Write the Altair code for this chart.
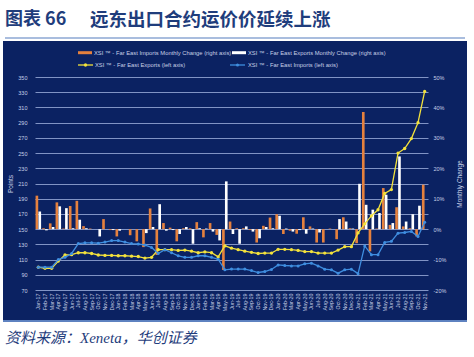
import altair as alt
import pandas as pd

months = [m + "-" + y for y in ["17", "18", "19", "20", "21"]
          for m in ["Jan", "Feb", "Mar", "Apr", "May", "Jun", "Jul", "Aug", "Sep", "Oct", "Nov", "Dec"]][:59]

exports_index = [100, 98.5, 98.5, 108, 116, 116.5, 119, 119, 118, 116, 115.5, 115.5, 115, 115, 114.5, 114, 112, 113, 123, 123,
                 123, 122, 122.5, 121, 119, 120, 119, 113.5, 128, 125,
                 123, 121, 119.5, 118, 118.5, 118.5, 123.5, 123.5, 123, 122,
                 120.5, 120.5, 118.5, 118.5, 118.5, 122.5, 127, 127, 145, 157,
                 167.5, 175.5, 197, 202, 250, 256, 269, 290, 331]
imports_index = [100, 100, 100, 110, 113, 118, 131, 132, 132, 131.5, 133, 135, 135, 133, 131, 130.5, 129, 126, 118, 123,
                 119, 115, 113, 113, 115, 115, 113, 110.5, 96.5, 97.5,
                 97.5, 97.5, 95.6, 93, 94.3, 97, 103, 102.2, 101.7, 101.7,
                 104.4, 105.3, 101.7, 97.4, 96.5, 92.1, 96.5, 97.4, 91.5, 128,
                 116.5, 116.5, 132.5, 134, 144.7, 145.6, 147, 140.4, 159]
imports_change_pct = [11, 0.3, 1.9, 8.8, 0.2, 7.6, 9.3, 1.0, 0.2, 0, 3.3, -0.3, -2.4, 0, -2.0, -4.0, -5.9, 6.8, -8.5, 2.0,
                      0.5, -4.0, 0.3, 0.3, 2.3, -2.7, 2.0, -1.9, -13.4, 2.5,
                      0.3, 0.3, -0.3, -4.4, 1.1, 3.8, 4.9, -1.6, -0.5, -1.5,
                      3.9, 0.9, -4.4, -4.4, 0.2, -3.3, 3.9, 0.3, -4.6, 38.5,
                      -7.3, 0.2, 13.5, 1.4, 7.2, 0.9, 0.3, -2.4, 14.6]
exports_change_pct = [5.8, -0.4, 0.7, 7.5, 6.9, 0.3, 3.1, 0.3, 0, -2.4, 0, -0.3, -0.5, 0, 0, 0, -1.3, 0.7, 8.2, -0.5,
                      -0.3, -1.6, 0.7, -4.8, 0.3, 0.2, -0.8, -3.7, 15.7, -1.6,
                      -4.8, 0.9, -0.8, -3.0, 0.7, 0.3, 4.4, 0.2, -0.8, -0.3,
                      -1.5, 0.2, -1.1, 0, 0, 3.3, 2.5, 0.2, 14.9, 8.0,
                      6.4, 5.3, 11.3, 2.0, 23.9, 2.5, 4.9, 7.7, 0]

left_ticks = list(range(70, 351, 20))
right_ticks = [-0.2, -0.1, 0.0, 0.1, 0.2, 0.3, 0.4, 0.5]

title_a = "图表 66"
title_b = "远东出口合约运价价延续上涨"
source_text = "资料来源：Xeneta，华创证券"
legend_labels = ["XSI ™ - Far East Imports Monthly Change (right axis)",
                 "XSI ™ - Far East Exports Monthly Change (right axis)",
                 "XSI ™ - Far East Exports (left axis)",
                 "XSI ™ - Far East Imports (left axis)"]

NAVY = "#0B2262"
ORANGE = "#E5813E"
YELLOW = "#F3E23C"
BLUE = "#3F8EE0"
LBL = "#C8D0E6"
GRID = "#8FA2D0"
TITLE_C = "#1F3D7C"
FONT = "Liberation Sans"
CJK = "Noto Sans CJK SC"

W, H = 393, 213

x_enc = alt.X("month:N",
              scale=alt.Scale(type="band", domain=months, paddingInner=0, paddingOuter=0),
              axis=alt.Axis(title=None, labelAngle=270, labelFontSize=5.3, labelColor=LBL, labelFont=FONT,
                            labelPadding=3, ticks=False, domain=False, grid=False, labelOverlap=False))

left_axis = alt.Axis(orient="left", values=left_ticks, grid=True, gridColor=GRID, gridWidth=0.9,
                     domain=False, ticks=False, labelColor=LBL, labelFontSize=5.5, labelFont=FONT,
                     labelPadding=8, title="Points", titleColor=LBL, titleFontSize=6.5, titleFont=FONT,
                     titleFontWeight="normal", titleX=-25, titleY=H / 2, titleAngle=270,
                     titleAlign="center", titleBaseline="middle")
right_axis = alt.Axis(orient="right", values=right_ticks, grid=False, domain=False, ticks=False,
                      labelExpr="round(datum.value*100) + '%'", labelColor=LBL, labelFontSize=5.5,
                      labelFont=FONT, labelPadding=5, title="Monthly Change", titleColor=LBL,
                      titleFontSize=6.5, titleFont=FONT, titleFontWeight="normal", titleX=31,
                      titleY=H / 2, titleAngle=270, titleAlign="center", titleBaseline="middle")

left_scale = alt.Scale(domain=[70, 350], nice=False, zero=False)
right_scale = alt.Scale(domain=[-0.2, 0.5], nice=False)

bars_df = pd.DataFrame({
    "month": months * 2,
    "series": ["imp"] * len(months) + ["exp"] * len(months),
    "chg": [v / 100 for v in imports_change_pct + exports_change_pct],
})
bars = alt.Chart(bars_df).mark_bar().encode(
    x=x_enc,
    xOffset=alt.XOffset("series:N", scale=alt.Scale(domain=["imp", "exp"], paddingInner=0.08, paddingOuter=0.2)),
    y=alt.Y("chg:Q", scale=right_scale, axis=right_axis),
    color=alt.Color("series:N", scale=alt.Scale(domain=["imp", "exp"], range=[ORANGE, "#FFFFFF"]), legend=None),
)

exp_df = pd.DataFrame({"month": months, "v": exports_index})
imp_df = pd.DataFrame({"month": months, "v": imports_index})

def line_layers(df, color, size):
    base = alt.Chart(df).encode(x=x_enc, y=alt.Y("v:Q", scale=left_scale, axis=left_axis))
    return [base.mark_line(color=color, strokeWidth=1.3),
            base.mark_circle(color=color, size=size, opacity=1)]

lines = alt.layer(*line_layers(exp_df, YELLOW, 11), *line_layers(imp_df, BLUE, 9))

one = alt.Data(values=[{}])

def rect(x, x2, y, y2, color):
    return alt.Chart(one).mark_rect(color=color).encode(
        x=alt.value(x), x2=alt.value(x2), y=alt.value(y), y2=alt.value(y2))

def text(s, x, y, size, color, font, weight="normal", style="normal"):
    return alt.Chart(one).mark_text(align="left", baseline="middle", fontSize=size, color=color, font=font,
                                    fontWeight=weight, fontStyle=style).encode(
        x=alt.value(x), y=alt.value(y), text=alt.value(s))

def rule(x, x2, y, color, width):
    return alt.Chart(one).mark_rule(color=color, strokeWidth=width).encode(
        x=alt.value(x), x2=alt.value(x2), y=alt.value(y))

def dot(x, y, color, size):
    return alt.Chart(one).mark_circle(color=color, size=size, opacity=1).encode(x=alt.value(x), y=alt.value(y))

decor = [
    rect(-40, 450, -80, -36, "white"),
    rect(-40, 450, 243, 300, "white"),
    rect(-40, -32, -36, 243, "white"),
    rect(432, 450, -36, 243, "white"),
    rule(-30, 430, -39, "#8DA7D3", 1.5),
    rule(-32, 432, 244, "#5E82C0", 2),
    text(title_a, -30, -57, 18, TITLE_C, CJK, "bold"),
    text(title_b, 55, -57, 18.5, TITLE_C, CJK, "bold"),
    text(source_text, -30, 261, 15, TITLE_C, "Liberation Serif, " + CJK, "normal", "italic"),
    rect(43, 57, -25.8, -22.8, ORANGE),
    text(legend_labels[0], 59, -24.3, 5.8, LBL, FONT),
    rect(197, 211, -25.8, -22.8, "#FFFFFF"),
    text(legend_labels[1], 213, -24.3, 5.8, LBL, FONT),
    rule(43, 58, -12, YELLOW, 1.3),
    dot(50.5, -12, YELLOW, 11),
    text(legend_labels[2], 60, -12, 5.8, LBL, FONT),
    rule(195, 210, -12, BLUE, 1.3),
    dot(202.5, -12, BLUE, 9),
    text(legend_labels[3], 213, -12, 5.8, LBL, FONT),
]

chart = alt.layer(bars, lines, *decor).resolve_scale(y="independent").properties(
    width=W, height=H,
    autosize=alt.AutoSizeParams(type="none"),
    padding={"left": 35, "top": 77, "right": 46, "bottom": 67},
    background=NAVY,
).configure_view(stroke=None)

chart.save("out.html", embed_options={"renderer": "svg", "actions": False})
